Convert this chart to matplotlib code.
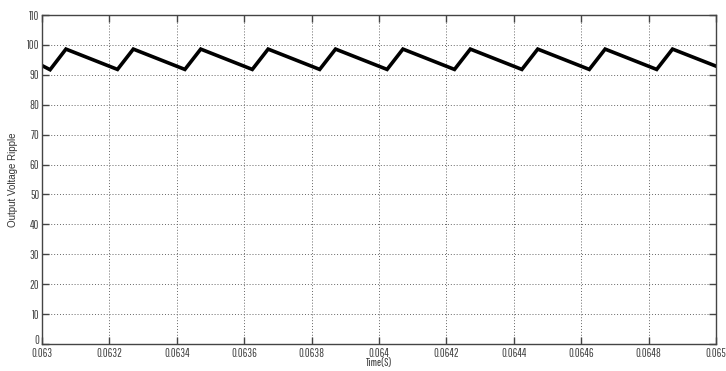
import matplotlib
matplotlib.use("Agg")
import matplotlib.pyplot as plt
from matplotlib.transforms import ScaledTranslation

# Vertices of the ripple waveform (time in s, voltage)
times = [0.063, 0.063024, 0.063071,
         0.063224, 0.063271,
         0.063424, 0.063471,
         0.063624, 0.063671,
         0.063824, 0.063871,
         0.064024, 0.064071,
         0.064224, 0.064271,
         0.064424, 0.064471,
         0.064624, 0.064671,
         0.064824, 0.064871,
         0.065]
volts = [93.1, 91.7, 98.6,
         91.8, 98.6,
         91.8, 98.6,
         91.8, 98.6,
         91.8, 98.6,
         91.8, 98.6,
         91.8, 98.6,
         91.8, 98.6,
         91.8, 98.6,
         91.8, 98.6,
         92.9]

xticks = [0.063, 0.0632, 0.0634, 0.0636, 0.0638, 0.064, 0.0642, 0.0644, 0.0646, 0.0648, 0.065]
xticklabels = ["0.063", "0.0632", "0.0634", "0.0636", "0.0638", "0.064", "0.0642",
               "0.0644", "0.0646", "0.0648", "0.065"]
yticks = list(range(0, 111, 10))
yticklabels = [str(v) for v in yticks]

plt.rcParams['font.family'] = ['Liberation Sans', 'DejaVu Sans']
tickfont = ['Pathway Gothic One', 'Roboto Condensed', 'DejaVu Sans']

fig = plt.figure(figsize=(7.26, 3.71), dpi=100)
ax = fig.add_axes([42/726, 1 - 344/371, (716-42)/726, (344-15)/371])
ax.plot(times, volts, color="black", lw=2.6, solid_joinstyle="miter")
ax.set_xlim(0.063, 0.065)
ax.set_ylim(0, 110)
ax.set_xticks(xticks)
ax.set_xticklabels(xticklabels, family=tickfont, fontsize=8.5, color="#333333")
ax.set_yticks(yticks)
ax.set_yticklabels(yticklabels, family=tickfont, fontsize=8.5, color="#333333")
ax.grid(True, color="#666666", linestyle=(0, (1, 2)), linewidth=0.7)
ax.tick_params(direction="in", length=5, width=1, colors="#444444",
               top=True, right=True)
ax.tick_params(axis="x", pad=3)
ax.tick_params(axis="y", pad=2)
for s in ax.spines.values():
    s.set_color("#444444")
    s.set_linewidth(1)
# nudge the "0" y-label up slightly, as in the reference
zero_lab = ax.get_yticklabels()[0]
zero_lab.set_transform(zero_lab.get_transform() + ScaledTranslation(0, 3/72, fig.dpi_scale_trans))
ax.set_xlabel("Time(S)", fontsize=8, family=tickfont, color="#333333", labelpad=-0.5)
ax.set_ylabel("Output Voltage Ripple", fontsize=7, color="#333333")
ax.yaxis.set_label_coords((18 - 42) / 674, 0.5)
fig.savefig("out.png", dpi=100, facecolor="white")
